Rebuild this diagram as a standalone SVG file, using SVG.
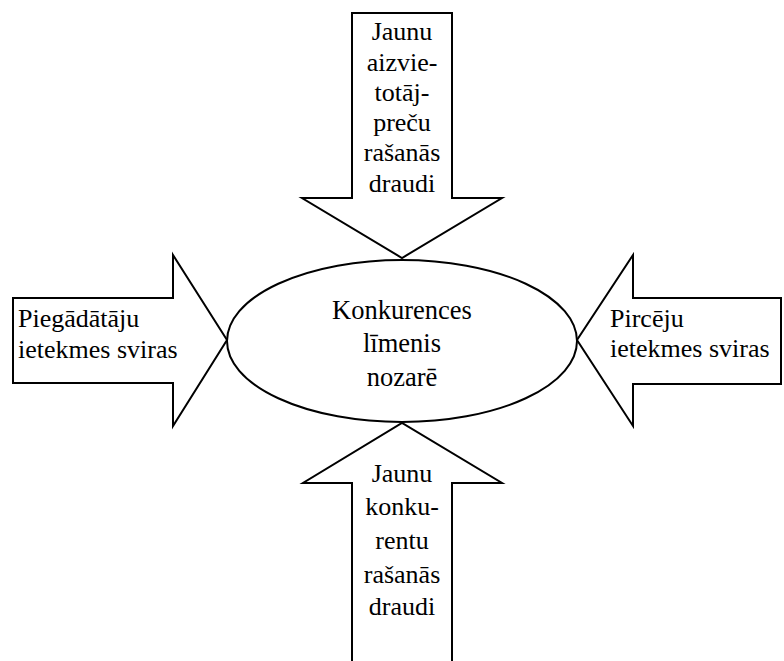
<svg xmlns="http://www.w3.org/2000/svg" width="784" height="661" viewBox="0 0 784 661">
<style>
.s{fill:#fff;stroke:#000;stroke-width:2}
</style>
<rect width="784" height="661" fill="#fff"/>
<g id="connectors">
<path id="top-arrow-shape" class="s" d="M352,13 H452 V198 H502 L402,258 L302,198 H352 Z"/>
<path id="left-arrow-shape" class="s" d="M13,298 H173 V255 L227,340 L173,426 V383 H13 Z"/>
<path id="right-arrow-shape" class="s" d="M781,298 H633 V255 L577,340 L633,426 V384 H781 Z"/>
<path id="bottom-arrow-shape" class="s" d="M352,662 V483 H303 L402,423 L502,483 H452 V662"/>
</g>
<g id="top-arrow">
<text x="402" y="40" font-size="26" font-family="Liberation Serif, serif" text-anchor="middle">Jaunu</text>
<text x="402" y="71" font-size="26" font-family="Liberation Serif, serif" text-anchor="middle">aizvie-</text>
<text x="402" y="101" font-size="26" font-family="Liberation Serif, serif" text-anchor="middle">totāj-</text>
<text x="402" y="131" font-size="26" font-family="Liberation Serif, serif" text-anchor="middle">preču</text>
<text x="402" y="161" font-size="26" font-family="Liberation Serif, serif" text-anchor="middle">rašanās</text>
<text x="402" y="192" font-size="26" font-family="Liberation Serif, serif" text-anchor="middle">draudi</text>
</g>
<g id="left-arrow">
<text x="18" y="327" font-size="26" font-family="Liberation Serif, serif">Piegādātāju</text>
<text x="18" y="358" font-size="26" font-family="Liberation Serif, serif">ietekmes sviras</text>
</g>
<g id="right-arrow">
<text x="610" y="327" font-size="26" font-family="Liberation Serif, serif">Pircēju</text>
<text x="610" y="357" font-size="26" font-family="Liberation Serif, serif">ietekmes sviras</text>
</g>
<g id="bottom-arrow">
<text x="402" y="482" font-size="26" font-family="Liberation Serif, serif" text-anchor="middle">Jaunu</text>
<text x="402" y="515" font-size="26" font-family="Liberation Serif, serif" text-anchor="middle">konku-</text>
<text x="402" y="549" font-size="26" font-family="Liberation Serif, serif" text-anchor="middle">rentu</text>
<text x="402" y="583" font-size="26" font-family="Liberation Serif, serif" text-anchor="middle">rašanās</text>
<text x="402" y="615" font-size="26" font-family="Liberation Serif, serif" text-anchor="middle">draudi</text>
</g>
<g id="center">
<ellipse class="s" cx="402" cy="341" rx="175" ry="81"/>
<text x="402" y="319" font-size="26.5" font-family="Liberation Serif, serif" text-anchor="middle">Konkurences</text>
<text x="402" y="352" font-size="26.5" font-family="Liberation Serif, serif" text-anchor="middle">līmenis</text>
<text x="402" y="386" font-size="26.5" font-family="Liberation Serif, serif" text-anchor="middle">nozarē</text>
</g>
</svg>
